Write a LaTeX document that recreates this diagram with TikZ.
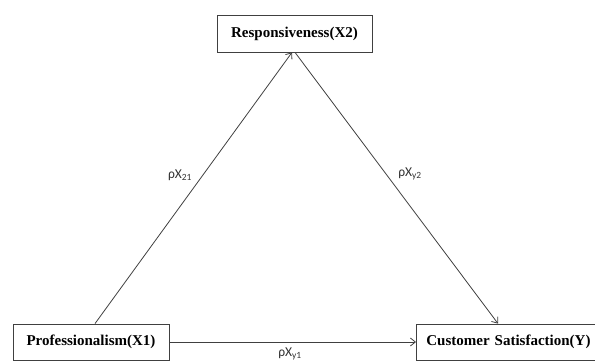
\documentclass[tikz,border=0pt]{standalone}
\usepackage{fontspec}
\setmainfont{Liberation Serif}
\newfontfamily\labfont{Carlito}
\usetikzlibrary{arrows.meta}
\begin{document}
\begin{tikzpicture}[x=1pt,y=-1pt,
  box/.style={draw=black!75, line width=0.8pt, inner sep=0pt, font=\fontsize{15}{17}\selectfont\bfseries},
  conn/.style={draw=black!75, line width=0.8pt, -{Straight Barb[length=5pt,width=8pt]}},
  lab/.style={font=\labfont\fontsize{13.5}{15}\selectfont, text=black!80}]
\useasboundingbox (0,0) rectangle (595,363);
\node[box, minimum width=155pt, minimum height=37pt] (x2) at (294.5,33.5) {Responsiveness(X2)};
\node[box, minimum width=156pt, minimum height=36pt] (x1) at (91,342) {Professionalism(X1)};
\node[box, minimum width=182pt, minimum height=36pt, anchor=west, align=left, text width=182pt] (y) at (416,342) {\hspace{10pt}Customer Satisfaction(Y)};
\coordinate (a1) at (95,324);
\coordinate (a2) at (292,52);
\coordinate (b1) at (295,52);
\coordinate (b2) at (498,324);
\draw[conn] (x1.north -| a1) -- (x2.south -| a2);
\draw[conn] (x2.south -| b1) -- (y.north -| b2);
\draw[conn] (x1.east) -- (y.west);
\node[lab] (l21) at (180,175) {ρX\textsubscript{21}};
\node[lab] (ly2) at (410,174) {ρX\textsubscript{y2}};
\node[lab] (ly1) at (290,354) {ρX\textsubscript{y1}};
\end{tikzpicture}
\end{document}
